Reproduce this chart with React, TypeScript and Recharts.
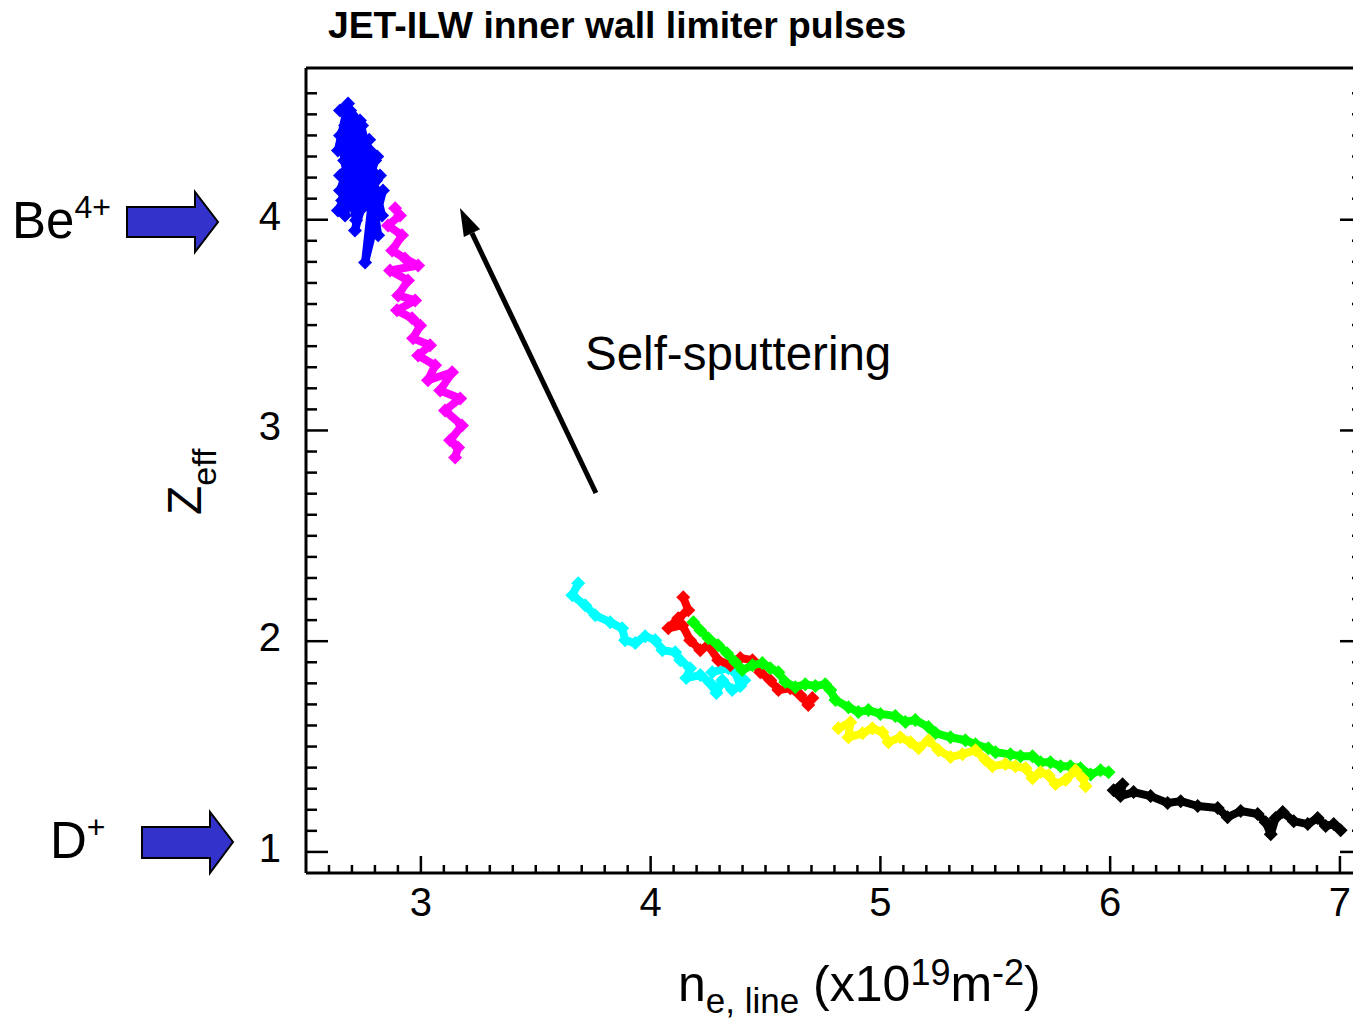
import { ComposedChart, Scatter, XAxis, YAxis, ReferenceLine } from 'recharts';

const FONT = '"Liberation Sans", Arial, Helvetica, sans-serif';

// axis ticks
const xMajorTicks = [3, 4, 5, 6, 7];
const yMajorTicks = [1, 2, 3, 4];
const xAllTicks = Array.from({ length: 45 }, (_, i) => Math.round((2.6 + i * 0.1) * 10) / 10);
const yAllTicks = Array.from({ length: 37 }, (_, i) => Math.round((1.0 + i * 0.1) * 10) / 10);

// pulses: n_e,line (x1e19 m^-2) vs Zeff
const bluePulse = [
  { x: 2.648, y: 4.518 }, { x: 2.683, y: 4.552 }, { x: 2.639, y: 4.329 }, { x: 2.700, y: 4.481 },
  { x: 2.657, y: 4.091 }, { x: 2.718, y: 4.447 }, { x: 2.670, y: 4.020 }, { x: 2.735, y: 4.400 },
  { x: 2.692, y: 4.139 }, { x: 2.757, y: 4.352 }, { x: 2.648, y: 4.210 }, { x: 2.779, y: 4.329 },
  { x: 2.713, y: 3.949 }, { x: 2.801, y: 4.281 }, { x: 2.683, y: 4.186 }, { x: 2.822, y: 4.210 },
  { x: 2.735, y: 4.044 }, { x: 2.835, y: 4.139 }, { x: 2.757, y: 3.797 }, { x: 2.787, y: 4.091 },
  { x: 2.814, y: 3.926 }, { x: 2.761, y: 4.329 }, { x: 2.831, y: 4.020 }, { x: 2.735, y: 4.471 },
  { x: 2.666, y: 4.281 }, { x: 2.718, y: 3.997 }, { x: 2.648, y: 4.400 }, { x: 2.692, y: 4.518 },
  { x: 2.744, y: 4.447 }, { x: 2.648, y: 4.139 }, { x: 2.805, y: 4.186 }, { x: 2.700, y: 4.329 },
  { x: 2.770, y: 4.067 }, { x: 2.670, y: 4.447 }, { x: 2.787, y: 4.233 }, { x: 2.639, y: 4.044 },
  { x: 2.726, y: 4.233 }, { x: 2.660, y: 4.360 }, { x: 2.750, y: 4.150 }, { x: 2.705, y: 4.250 },
  { x: 2.775, y: 4.380 }, { x: 2.690, y: 4.300 }, { x: 2.810, y: 4.300 }, { x: 2.720, y: 4.120 },
];

const magentaPulse = [
  { x: 2.888, y: 4.054 }, { x: 2.909, y: 4.020 }, { x: 2.857, y: 3.973 }, { x: 2.918, y: 3.926 },
  { x: 2.875, y: 3.854 }, { x: 2.931, y: 3.816 }, { x: 2.988, y: 3.783 }, { x: 2.866, y: 3.759 },
  { x: 2.944, y: 3.712 }, { x: 2.901, y: 3.641 }, { x: 2.975, y: 3.617 }, { x: 2.896, y: 3.570 },
  { x: 2.962, y: 3.532 }, { x: 2.997, y: 3.498 }, { x: 2.966, y: 3.437 }, { x: 3.040, y: 3.404 },
  { x: 2.988, y: 3.356 }, { x: 3.062, y: 3.309 }, { x: 3.031, y: 3.238 }, { x: 3.136, y: 3.276 },
  { x: 3.084, y: 3.190 }, { x: 3.171, y: 3.152 }, { x: 3.105, y: 3.095 }, { x: 3.179, y: 3.024 },
  { x: 3.127, y: 2.953 }, { x: 3.162, y: 2.919 }, { x: 3.149, y: 2.872 },
];

const cyanPulse = [
  { x: 3.685, y: 2.275 }, { x: 3.659, y: 2.218 }, { x: 3.715, y: 2.170 }, { x: 3.759, y: 2.123 },
  { x: 3.824, y: 2.090 }, { x: 3.876, y: 2.061 }, { x: 3.889, y: 2.005 }, { x: 3.933, y: 1.991 },
  { x: 3.976, y: 2.024 }, { x: 4.020, y: 2.005 }, { x: 4.051, y: 1.957 }, { x: 4.107, y: 1.948 },
  { x: 4.129, y: 1.910 }, { x: 4.172, y: 1.872 }, { x: 4.155, y: 1.825 }, { x: 4.216, y: 1.839 },
  { x: 4.260, y: 1.801 }, { x: 4.286, y: 1.754 }, { x: 4.312, y: 1.815 }, { x: 4.355, y: 1.768 },
  { x: 4.390, y: 1.787 }, { x: 4.368, y: 1.853 }, { x: 4.408, y: 1.815 }, { x: 4.338, y: 1.872 },
  { x: 4.268, y: 1.853 },
];

const redPulse = [
  { x: 4.142, y: 2.208 }, { x: 4.164, y: 2.147 }, { x: 4.120, y: 2.109 }, { x: 4.077, y: 2.061 },
  { x: 4.138, y: 2.076 }, { x: 4.172, y: 2.005 }, { x: 4.216, y: 1.957 }, { x: 4.251, y: 1.981 },
  { x: 4.294, y: 1.910 }, { x: 4.347, y: 1.886 }, { x: 4.390, y: 1.920 }, { x: 4.443, y: 1.910 },
  { x: 4.477, y: 1.853 }, { x: 4.521, y: 1.815 }, { x: 4.556, y: 1.768 }, { x: 4.608, y: 1.777 },
  { x: 4.652, y: 1.744 }, { x: 4.686, y: 1.697 }, { x: 4.704, y: 1.730 },
];

const greenPulse = [
  { x: 4.186, y: 2.090 }, { x: 4.216, y: 2.052 }, { x: 4.251, y: 2.014 }, { x: 4.294, y: 1.981 },
  { x: 4.333, y: 1.943 }, { x: 4.368, y: 1.901 }, { x: 4.399, y: 1.863 }, { x: 4.443, y: 1.886 },
  { x: 4.486, y: 1.896 }, { x: 4.521, y: 1.872 }, { x: 4.556, y: 1.853 }, { x: 4.586, y: 1.806 },
  { x: 4.630, y: 1.782 }, { x: 4.673, y: 1.796 }, { x: 4.717, y: 1.787 }, { x: 4.760, y: 1.796 },
  { x: 4.782, y: 1.768 }, { x: 4.804, y: 1.721 }, { x: 4.861, y: 1.687 }, { x: 4.904, y: 1.664 },
  { x: 4.948, y: 1.673 }, { x: 5.000, y: 1.655 }, { x: 5.065, y: 1.645 }, { x: 5.109, y: 1.617 },
  { x: 5.152, y: 1.626 }, { x: 5.209, y: 1.593 }, { x: 5.240, y: 1.564 }, { x: 5.305, y: 1.544 },
  { x: 5.370, y: 1.530 }, { x: 5.414, y: 1.511 }, { x: 5.470, y: 1.492 }, { x: 5.501, y: 1.473 },
  { x: 5.566, y: 1.463 }, { x: 5.610, y: 1.454 }, { x: 5.662, y: 1.454 }, { x: 5.697, y: 1.426 },
  { x: 5.740, y: 1.426 }, { x: 5.784, y: 1.407 }, { x: 5.827, y: 1.407 }, { x: 5.871, y: 1.397 },
  { x: 5.915, y: 1.368 }, { x: 5.958, y: 1.387 }, { x: 5.993, y: 1.378 },
];

const yellowPulse = [
  { x: 4.817, y: 1.587 }, { x: 4.869, y: 1.615 }, { x: 4.861, y: 1.544 }, { x: 4.922, y: 1.563 },
  { x: 4.965, y: 1.587 }, { x: 5.009, y: 1.568 }, { x: 5.035, y: 1.521 }, { x: 5.087, y: 1.544 },
  { x: 5.131, y: 1.521 }, { x: 5.166, y: 1.492 }, { x: 5.209, y: 1.530 }, { x: 5.253, y: 1.483 },
  { x: 5.305, y: 1.450 }, { x: 5.357, y: 1.464 }, { x: 5.414, y: 1.483 }, { x: 5.457, y: 1.436 },
  { x: 5.488, y: 1.407 }, { x: 5.544, y: 1.417 }, { x: 5.588, y: 1.407 }, { x: 5.632, y: 1.397 },
  { x: 5.662, y: 1.350 }, { x: 5.697, y: 1.379 }, { x: 5.732, y: 1.364 }, { x: 5.762, y: 1.322 },
  { x: 5.806, y: 1.341 }, { x: 5.849, y: 1.388 }, { x: 5.880, y: 1.350 }, { x: 5.893, y: 1.312 },
];

const blackPulse = [
  { x: 6.015, y: 1.293 }, { x: 6.054, y: 1.321 }, { x: 6.045, y: 1.265 }, { x: 6.102, y: 1.284 },
  { x: 6.176, y: 1.265 }, { x: 6.250, y: 1.232 }, { x: 6.307, y: 1.241 }, { x: 6.381, y: 1.218 },
  { x: 6.468, y: 1.208 }, { x: 6.511, y: 1.165 }, { x: 6.568, y: 1.194 }, { x: 6.642, y: 1.180 },
  { x: 6.677, y: 1.141 }, { x: 6.699, y: 1.084 }, { x: 6.720, y: 1.161 }, { x: 6.751, y: 1.189 },
  { x: 6.799, y: 1.146 }, { x: 6.860, y: 1.132 }, { x: 6.903, y: 1.161 }, { x: 6.938, y: 1.123 },
  { x: 6.973, y: 1.132 }, { x: 7.003, y: 1.103 },
];

const pulses = [
  { name: 'cyan', color: '#00ffff', data: cyanPulse },
  { name: 'red', color: '#ff0000', data: redPulse },
  { name: 'green', color: '#00ff00', data: greenPulse },
  { name: 'yellow', color: '#ffff00', data: yellowPulse },
  { name: 'black', color: '#000000', data: blackPulse },
  { name: 'magenta', color: '#ff00ff', data: magentaPulse },
  { name: 'blue', color: '#0000ff', data: bluePulse },
];

// annotation arrow: tail -> tip
const arrowSegment = [{ x: 3.762, y: 2.703 }, { x: 3.17, y: 4.056 }];

const isMajor = (v: number) => Math.abs(v - Math.round(v)) < 1e-6;

const BottomTick = ({ x, y, payload }: any) => {
  const major = isMajor(payload.value);
  return (
    <g>
      <line x1={x} x2={x} y1={y} y2={y - (major ? 17 : 8)} stroke="#000" strokeWidth={2.5} />
      {major && xMajorTicks.includes(Math.round(payload.value)) && (
        <text x={x} y={y + 43} textAnchor="middle" fontSize={40} fontFamily={FONT} fill="#000">
          {Math.round(payload.value)}
        </text>
      )}
    </g>
  );
};

const TopTick = ({ x, y, payload }: any) => {
  const major = isMajor(payload.value);
  return <line x1={x} x2={x} y1={y} y2={y + (major ? 15 : 7)} stroke="#000" strokeWidth={2.5} />;
};

const LeftTick = ({ x, y, payload }: any) => {
  const major = isMajor(payload.value);
  return (
    <g>
      <line x1={x} x2={x + (major ? 22 : 11)} y1={y} y2={y} stroke="#000" strokeWidth={2.5} />
      {major && yMajorTicks.includes(Math.round(payload.value)) && (
        <text x={x - 25} y={y + 10} textAnchor="end" fontSize={40} fontFamily={FONT} fill="#000">
          {Math.round(payload.value)}
        </text>
      )}
    </g>
  );
};

const RightTick = ({ x, y, payload }: any) => {
  const major = isMajor(payload.value);
  return <line x1={x} x2={x - (major ? 16 : 4)} y1={y} y2={y} stroke="#000" strokeWidth={2.5} />;
};

const ArrowShape = (p: any) => {
  const { x1, y1, x2, y2 } = p;
  const ang = Math.atan2(y2 - y1, x2 - x1);
  const len = 28;
  const half = 9;
  const bx = x2 - len * Math.cos(ang);
  const by = y2 - len * Math.sin(ang);
  const nx = -Math.sin(ang) * half;
  const ny = Math.cos(ang) * half;
  return (
    <g>
      <line x1={x1} y1={y1} x2={bx} y2={by} stroke="#000" strokeWidth={5} />
      <polygon points={`${x2},${y2} ${bx + nx},${by + ny} ${bx - nx},${by - ny}`} fill="#000" />
    </g>
  );
};

const Marker = ({ cx, cy, fill }: any) => {
  if (cx == null || cy == null) return null;
  const r = 7;
  return <polygon points={`${cx},${cy - r} ${cx + r},${cy} ${cx},${cy + r} ${cx - r},${cy}`} fill={fill} />;
};

export default function App() {
  return (
    <div style={{ position: 'absolute', left: 0, top: 0, width: 1353, height: 1019, overflow: 'hidden', background: '#fff' }}>
      <ComposedChart width={1358} height={1019} margin={{ top: 67, right: 1, bottom: 145, left: 305 }}>
        <XAxis
          xAxisId="b"
          type="number"
          dataKey="x"
          domain={[2.5, 7.07]}
          allowDataOverflow
          ticks={xAllTicks}
          interval={0}
          height={1}
          tickSize={0}
          tickMargin={0}
          tickLine={false}
          axisLine={{ stroke: '#000', strokeWidth: 3 }}
          tick={(p: any) => <BottomTick {...p} />}
        />
        <XAxis
          xAxisId="t"
          orientation="top"
          type="number"
          domain={[2.5, 7.07]}
          allowDataOverflow
          ticks={xAllTicks}
          interval={0}
          height={1}
          tickSize={0}
          tickMargin={0}
          tickLine={false}
          axisLine={{ stroke: '#000', strokeWidth: 3 }}
          tick={(p: any) => <TopTick {...p} />}
        />
        <YAxis
          yAxisId="l"
          type="number"
          dataKey="y"
          domain={[0.9, 4.72]}
          allowDataOverflow
          ticks={yAllTicks}
          interval={0}
          width={1}
          tickSize={0}
          tickMargin={0}
          tickLine={false}
          axisLine={{ stroke: '#000', strokeWidth: 3 }}
          tick={(p: any) => <LeftTick {...p} />}
        />
        <YAxis
          yAxisId="r"
          orientation="right"
          type="number"
          domain={[0.9, 4.72]}
          allowDataOverflow
          ticks={yAllTicks}
          interval={0}
          width={1}
          tickSize={0}
          tickMargin={0}
          tickLine={false}
          axisLine={false}
          tick={(p: any) => <RightTick {...p} />}
        />
        {pulses.map((s) => (
          <Scatter
            key={s.name}
            name={s.name}
            xAxisId="b"
            yAxisId="l"
            data={s.data}
            fill={s.color}
            line={{ stroke: s.color, strokeWidth: 8, strokeLinejoin: 'round' }}
            shape={(p: any) => <Marker {...p} fill={s.color} />}
            isAnimationActive={false}
          />
        ))}
        <ReferenceLine
          xAxisId="b"
          yAxisId="l"
          segment={arrowSegment}
          ifOverflow="visible"
          shape={(p: any) => <ArrowShape {...p} />}
        />
      </ComposedChart>
      <svg
        width={1353}
        height={1019}
        style={{ position: 'absolute', left: 0, top: 0, pointerEvents: 'none' }}
        fontFamily={FONT}
      >
        <text x={328} y={38} fontSize={37.3} fontWeight="bold" fill="#000">
          JET-ILW inner wall limiter pulses
        </text>
        <text x={585} y={370} fontSize={47.5} fill="#000">
          Self-sputtering
        </text>
        <text transform="translate(201, 515) rotate(-90)" fontSize={48} fill="#000">
          Z<tspan fontSize={34} dy={15}>eff</tspan>
        </text>
        <text x={678} y={1001} fontSize={50} fill="#000">
          n<tspan fontSize={35} dy={12}>e, line</tspan>
          <tspan dy={-12}> (x10</tspan>
          <tspan fontSize={36} dy={-16}>19</tspan>
          <tspan dy={16}>m</tspan>
          <tspan fontSize={36} dy={-16}>-2</tspan>
          <tspan dy={16}>)</tspan>
        </text>
        <text x={12} y={238} fontSize={51} fill="#000">
          Be<tspan fontSize={32} dy={-20}>4+</tspan>
        </text>
        <text x={50} y={858} fontSize={51} fill="#000">
          D<tspan fontSize={32} dy={-20}>+</tspan>
        </text>
        <polygon
          points="127,207 195,207 195,192 218,222 195,252 195,237 127,237"
          fill="#3333cc"
          stroke="#000"
          strokeWidth={2}
        />
        <polygon
          points="142,827 210,827 210,812 233,842 210,873 210,858 142,858"
          fill="#3333cc"
          stroke="#000"
          strokeWidth={2}
        />
      </svg>
    </div>
  );
}
